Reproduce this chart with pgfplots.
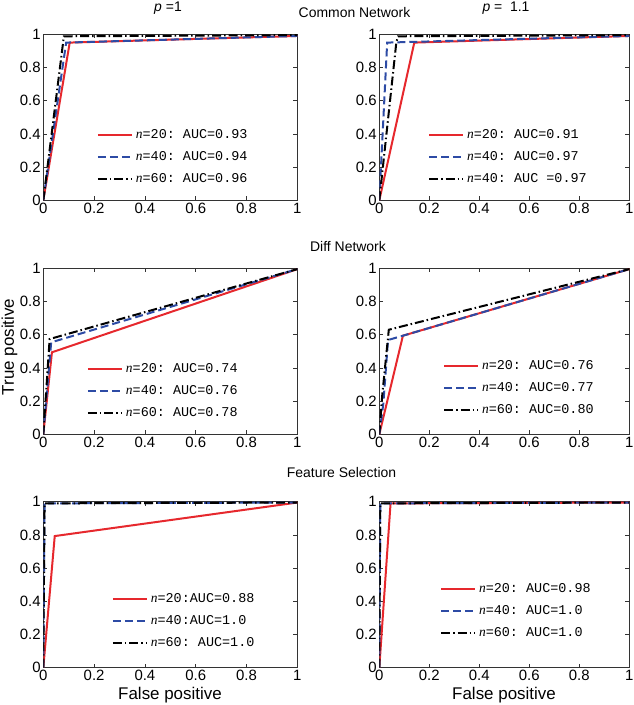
\documentclass[border=0pt]{standalone}
\usepackage{fontspec}
\setmainfont{Liberation Sans}
\setmonofont{Liberation Mono}
\newfontfamily\serifit{Liberation Serif}
\usepackage{pgfplots}
\pgfplotsset{compat=1.18}
\definecolor{myred}{RGB}{230,40,45}
\definecolor{myblue}{RGB}{45,75,165}
\newcommand{\nn}{{\serifit\itshape n}}
\pgfplotsset{
  roc/.style={
    scale only axis, width=254bp, height=166bp,
    xmin=0, xmax=1, ymin=0, ymax=1,
    xtick={0,0.2,0.4,0.6,0.8,1}, ytick={0,0.2,0.4,0.6,0.8,1},
    /pgf/number format/assume math mode=true,
    tick label style={font=\fontsize{15}{17}\selectfont},
    yticklabel style={inner sep=2.5bp},
    xticklabel style={inner sep=2.5bp},
    tick align=inside, major tick length=4bp,
    axis line style={line width=0.6bp, black!80},
    every tick/.style={black!80, line width=0.5bp},
    legend style={draw=none, fill=none, inner sep=0pt, outer sep=0pt,
      font=\fontsize{13.5}{15}\selectfont\ttfamily,
      cells={anchor=west}, row sep=9bp, column sep=3bp,
      nodes={inner sep=0bp, text height=10bp, text depth=3bp}},
    legend image code/.code={\draw[##1, line width=2bp] (0bp,0bp) -- (34bp,0bp);},
  },
  rl/.style={myred, line width=2bp, solid},
  bl/.style={myblue, line width=2bp, dash pattern=on 8bp off 4bp},
  kl/.style={black, line width=2bp, dash pattern=on 9bp off 3bp on 1.5bp off 3bp},
}
\begin{document}
\begin{tikzpicture}
\path[use as bounding box] (0,0) rectangle (634bp,-705bp);
% titles
\node at (168bp,-8bp) {\fontsize{14}{16}\selectfont\textit{p} =1};
\node at (506bp,-8bp) {\fontsize{14}{16}\selectfont\textit{p} =\ \ 1.1};
\node at (354.5bp,-12.5bp) {\fontsize{14}{16}\selectfont Common Network};
\node at (348bp,-247bp) {\fontsize{14}{16}\selectfont Diff Network};
\node at (341.5bp,-473bp) {\fontsize{14}{16}\selectfont Feature Selection};
\node[rotate=90] at (9.5bp,-347bp) {\fontsize{17}{19}\selectfont True positive};
\node at (170bp,-695bp) {\fontsize{17}{19}\selectfont False positive};
\node at (504bp,-695bp) {\fontsize{17}{19}\selectfont False positive};

% top left
\begin{axis}[roc, at={(43.3bp,-34.3bp)}, anchor=north west,
  legend style={at={(0.211,0.43)}, anchor=north west}]
\addplot[rl] coordinates {(0,0) (0.104,0.95) (1,0.99)};
\addplot[bl] coordinates {(0,0) (0.09,0.95) (1,0.99)};
\addplot[kl] coordinates {(0,0) (0.081,0.988) (1,0.995)};
\addlegendentry{{\nn=20: AUC=0.93}}
\addlegendentry{{\nn=40: AUC=0.94}}
\addlegendentry{{\nn=60: AUC=0.96}}
\end{axis}

% top right
\begin{axis}[roc, width=250bp, at={(379.3bp,-34.3bp)}, anchor=north west,
  legend style={at={(0.195,0.43)}, anchor=north west}]
\addplot[rl] coordinates {(0,0) (0.14,0.95) (1,0.99)};
\addplot[bl] coordinates {(0,0) (0.0315,0.95) (1,0.99)};
\addplot[kl] coordinates {(0,0) (0.068,0.95) (0.075,0.988) (1,0.995)};
\addlegendentry{{\nn=20: AUC=0.91}}
\addlegendentry{{\nn=40: AUC=0.97}}
\addlegendentry{{\nn=40: AUC =0.97}}
\end{axis}

% middle left
\begin{axis}[roc, at={(43.3bp,-268.3bp)}, anchor=north west,
  legend style={at={(0.172,0.43)}, anchor=north west}]
\addplot[rl] coordinates {(0,0) (0.034,0.494) (1,0.995)};
\addplot[bl] coordinates {(0,0) (0.031,0.554) (1,0.995)};
\addplot[kl] coordinates {(0,0) (0.025,0.574) (1,0.995)};
\addlegendentry{{\nn=20: AUC=0.74}}
\addlegendentry{{\nn=40: AUC=0.76}}
\addlegendentry{{\nn=60: AUC=0.78}}
\end{axis}

% middle right
\begin{axis}[roc, width=250bp, at={(379.3bp,-268.3bp)}, anchor=north west,
  legend style={at={(0.255,0.448)}, anchor=north west}]
\addplot[rl] coordinates {(0,0) (0.0945,0.594) (1,0.995)};
\addplot[bl] coordinates {(0,0) (0.016,0.184) (0.035,0.568) (0.0945,0.594) (1,0.995)};
\addplot[kl] coordinates {(0,0) (0.012,0.24) (0.038,0.63) (1,0.995)};
\addlegendentry{{\nn=20: AUC=0.76}}
\addlegendentry{{\nn=40: AUC=0.77}}
\addlegendentry{{\nn=60: AUC=0.80}}
\end{axis}

% bottom left
\begin{axis}[roc, at={(43.3bp,-501.7bp)}, anchor=north west,
  legend style={at={(0.27,0.456)}, anchor=north west}]
\addplot[rl] coordinates {(0,0) (0.045,0.793) (1,0.995)};
\addplot[bl] coordinates {(0,0) (0.005,0.99) (1,0.995)};
\addplot[kl] coordinates {(0,0) (0.005,0.99) (1,0.995)};
\addlegendentry{{\nn=20:AUC=0.88}}
\addlegendentry{{\nn=40:AUC=1.0}}
\addlegendentry{{\nn=60: AUC=1.0}}
\end{axis}

% bottom right
\begin{axis}[roc, width=250bp, at={(379.3bp,-501.7bp)}, anchor=north west,
  legend style={at={(0.243,0.516)}, anchor=north west}]
\addplot[rl] coordinates {(0,0) (0.045,0.99) (1,0.995)};
\addplot[bl] coordinates {(0,0) (0.004,0.99) (1,0.995)};
\addplot[kl] coordinates {(0,0) (0.004,0.99) (1,0.995)};
\addlegendentry{{\nn=20: AUC=0.98}}
\addlegendentry{{\nn=40: AUC=1.0}}
\addlegendentry{{\nn=60: AUC=1.0}}
\end{axis}
\end{tikzpicture}
\end{document}
